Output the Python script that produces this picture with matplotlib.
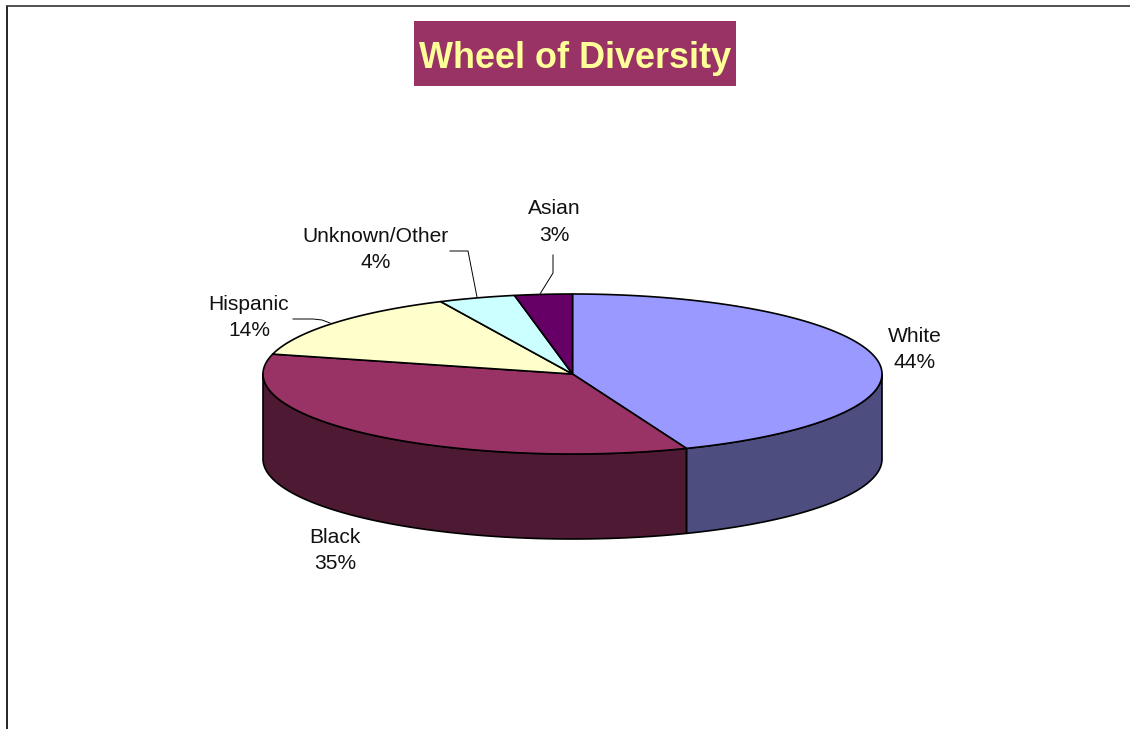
import numpy as np
import matplotlib
matplotlib.use("Agg")
import matplotlib.pyplot as plt
from matplotlib.patches import Polygon, Rectangle

# Chart data
labels = ["White", "Black", "Hispanic", "Unknown/Other", "Asian"]
values = [44, 35, 14, 4, 3]
top_colors = ["#9999FF", "#993366", "#FFFFCC", "#CCFFFF", "#660066"]
side_colors = ["#4D4D80", "#4D1933", "#808066", "#668080", "#330033"]
title = "Wheel of Diversity"

# Layout, in pixels of the picture
cx, cy = 572.5, 374
rx, ry = 309.5, 80
depth = 85
label_pos = [(915, 349.5), (335, 550.5), (249, 317.5), (375.5, 249.5), (554, 222)]
leaders = [
    None,
    None,
    [(293, 319), (313, 319), (322, 320), (330, 323)],
    [(450, 251), (468, 251), (477, 297)],
    [(553, 255), (553, 273), (540, 294)],
]

plt.rcParams["font.family"] = ["Liberation Sans", "DejaVu Sans"]

fig = plt.figure(figsize=(11.30, 7.29), dpi=100)
ax = fig.add_axes([0, 0, 1, 1])
ax.set_xlim(0, 1130)
ax.set_ylim(729, 0)
ax.axis("off")


# angle is measured clockwise from the top of the pie
def rim(a1, a2, dy=0):
    t = np.radians(np.linspace(a1, a2, 200))
    return np.column_stack([cx + rx * np.sin(t), cy - ry * np.cos(t) + dy])


# page border
ax.plot([6.5, 6.5], [729, 5.5], color="black", lw=1.2, solid_capstyle="butt")
ax.plot([6, 1130], [5.5, 5.5], color="#333333", lw=1.2, solid_capstyle="butt")

# title box
ax.add_patch(Rectangle((414, 21), 322, 65, facecolor="#993366", edgecolor="none"))
ax.text(575, 58, title, color="#FFFF99", fontsize=25.9, fontweight="bold",
        ha="center", va="center")

edges = np.concatenate([[0], np.cumsum(values)]) / sum(values) * 360

# side walls, only the front half of the pie shows
for i in range(len(values)):
    a1, a2 = max(edges[i], 90), min(edges[i + 1], 270)
    if a1 >= a2:
        continue
    pts = np.vstack([rim(a1, a2), rim(a1, a2, depth)[::-1]])
    ax.add_patch(Polygon(pts, closed=True, facecolor=side_colors[i],
                         edgecolor="black", lw=1.2, joinstyle="round"))

# top face
for i in range(len(values)):
    pts = np.vstack([[cx, cy], rim(edges[i], edges[i + 1])])
    ax.add_patch(Polygon(pts, closed=True, facecolor=top_colors[i],
                         edgecolor="black", lw=1.2, joinstyle="round"))

# labels and leader lines
for i in range(len(values)):
    ax.text(label_pos[i][0], label_pos[i][1], f"{labels[i]}\n{values[i]}%",
            fontsize=15.1, color="#111111", ha="center", va="center",
            linespacing=1.52)
    if leaders[i]:
        xs, ys = zip(*leaders[i])
        ax.plot(xs, ys, color="black", lw=0.7)

fig.savefig("out.png", dpi=100, facecolor="white")
